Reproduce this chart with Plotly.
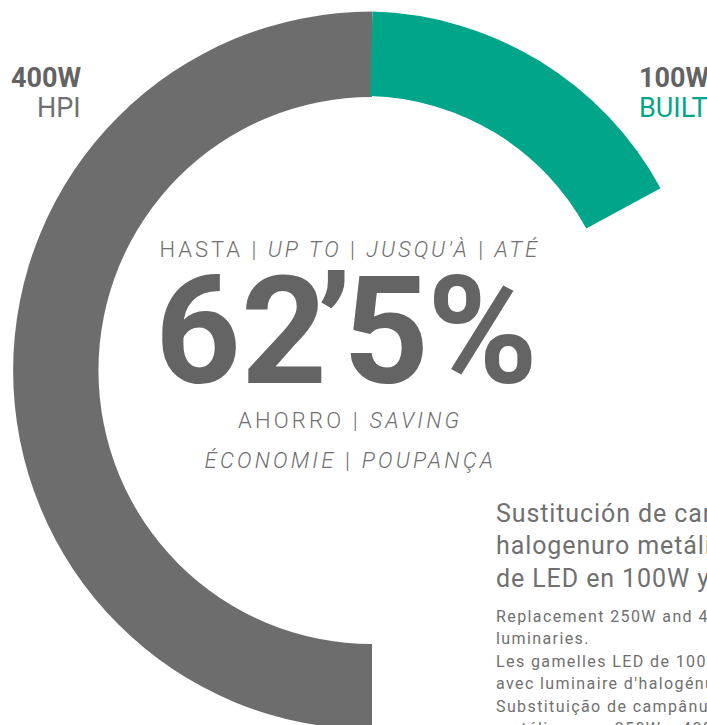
import json
import plotly.graph_objects as go

# Power figures shown on the ring
hpi_label = ["400W", "HPI"]
led_label = ["100W", "BUILT IN LED"]
hpi_watts = 400          # grey half ring
hpi_scale_watts = 800    # full turn of the grey ring
led_watts = 100          # green arc
led_scale_watts = 600    # full turn of the green ring

headline_glyphs = ["6", "2", "’", "5", "%"]
intro_line = "HASTA | <i>UP TO</i> | <i>JUSQU'À</i> | <i>ATÉ</i>"
saving_lines = ["AHORRO | <i>SAVING</i>", "<i>ÉCONOMIE</i> | <i>POUPANÇA</i>"]
title_lines = [
    "Sustitución de campanas de",
    "halogenuro metálico por campanas",
    "de LED en 100W y 150W.",
]
body_lines = [
    "Replacement 250W and 400W metal halide",
    "luminaries.",
    "Les gamelles LED de 100W et 150W remplacent",
    "avec luminaire d'halogénure métallique.",
    "Substituição de campânulas de halogenetos",
    "metálicos em 250W e 400W por LED.",
]

GREY = "#6d6d6d"
GREEN = "#00a58a"
DARK = "#646464"
LIGHT = "#707070"

W, H = 760, 760


def fx(px):
    return px / W


def fy(py):
    return 1 - py / H


def ring_domain(cx, cy, r):
    return dict(x=[fx(cx - r), fx(cx + r)], y=[fy(cy + r), fy(cy - r)])


fig = go.Figure()

# grey half ring: runs from 6 o'clock round the left side up to 12 o'clock
fig.add_trace(go.Pie(
    labels=["HPI", "resto"],
    values=[hpi_watts, hpi_scale_watts - hpi_watts],
    marker=dict(colors=[GREY, "rgba(0,0,0,0)"], line=dict(width=0)),
    hole=0.762, sort=False, direction="clockwise", rotation=180,
    textinfo="none", hoverinfo="skip", showlegend=False,
    domain=ring_domain(372, 370.5, 359),
))

# green arc: starts just right of 12 o'clock, runs clockwise
fig.add_trace(go.Pie(
    labels=["LED", "resto"],
    values=[led_watts, led_scale_watts - led_watts],
    marker=dict(colors=[GREEN, "rgba(0,0,0,0)"], line=dict(width=0)),
    hole=0.75, sort=False, direction="clockwise", rotation=1.5,
    textinfo="none", hoverinfo="skip", showlegend=False,
    domain=ring_domain(363.5, 349.5, 338),
))

ann = []
tracking = {}   # annotation index -> letter spacing in px


def text(s, x, y, size, color, weight=400, xanchor="center", spacing=None):
    if spacing:
        tracking[str(len(ann))] = spacing
    ann.append(dict(
        text=s, x=fx(x), y=fy(y), xref="paper", yref="paper",
        xanchor=xanchor, yanchor="middle", showarrow=False,
        align="left" if xanchor == "left" else "center",
        font=dict(family="Roboto", size=size, color=color, weight=weight),
    ))


# ring labels
text(hpi_label[0], 83, 78.5, 27, "#636363", 700, "right")
text(hpi_label[1], 83, 108, 27, LIGHT, 400, "right")
text(led_label[0], 637, 78.5, 27, "#636363", 700, "left")
text(led_label[1], 637, 108, 27, GREEN, 400, "left")

# central figure, set glyph by glyph for tight tracking
for g, cx in zip(headline_glyphs, [198, 283.5, 333.5, 386, 482.5]):
    text(g, cx, 331.5, 150, DARK, 700)

text(intro_line, 350, 249.5, 22, LIGHT, 300, spacing=3.0)
text(saving_lines[0], 350, 420.5, 22, LIGHT, 300, spacing=3.2)
text(saving_lines[1], 350, 460, 22, LIGHT, 300, spacing=3.2)

# description block
for i, s in enumerate(title_lines):
    text(s, 494, 513.3 + i * 32.5, 25, LIGHT, 400, "left", spacing=0.9)
for i, s in enumerate(body_lines):
    text(s, 494, 616 + i * 22.5, 16, LIGHT, 400, "left", spacing=1.4)

fig.update_layout(
    width=W, height=H,
    margin=dict(l=0, r=0, t=0, b=0),
    paper_bgcolor="white", plot_bgcolor="white",
    annotations=ann,
)

post = (
    "document.body.style.margin='0';document.body.style.overflow='hidden';"
    "var sp=" + json.dumps(tracking) + ";"
    "document.querySelectorAll('g.annotation').forEach(function(g){"
    "var k=g.getAttribute('data-index');"
    "if(k in sp){g.querySelectorAll('text').forEach(function(t){"
    "t.style.letterSpacing=sp[k]+'px';});}});"
)

fig.write_html("out.html", post_script=post)
